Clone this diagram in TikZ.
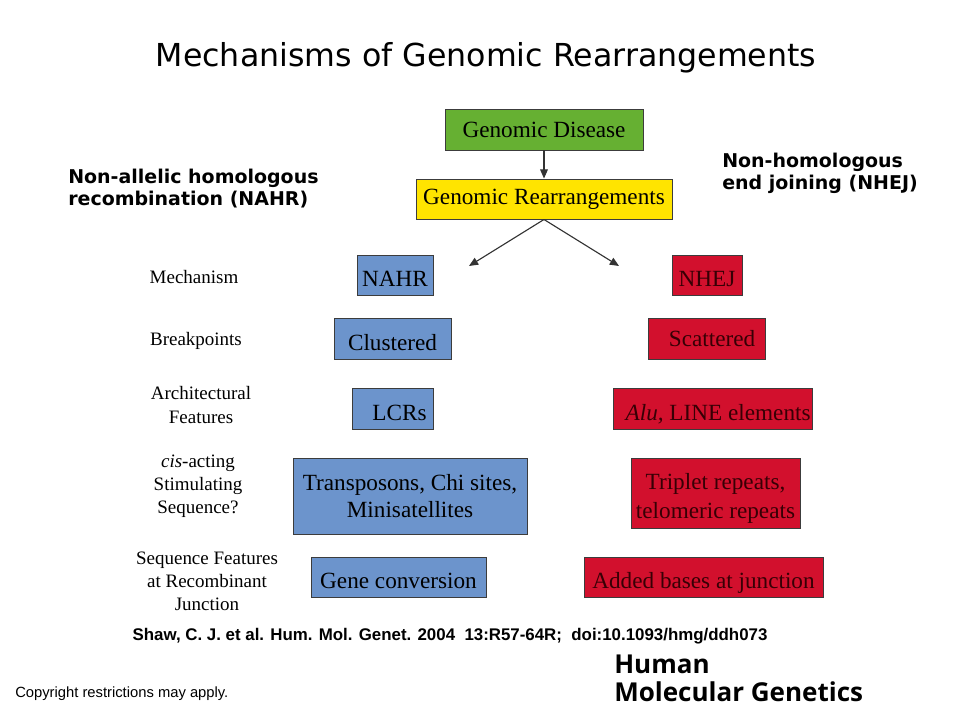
\documentclass[tikz,border=0pt]{standalone}
\usepackage{fontspec}
\setmainfont{Liberation Serif}
\newfontfamily\titlefont{DejaVu Sans}
\newfontfamily\arialfont{Liberation Sans}
\newfontfamily\hmgfont{Open Sans}
\usetikzlibrary{arrows.meta, positioning}
\definecolor{diseasegreen}{RGB}{102, 176, 50}
\definecolor{rearryellow}{RGB}{255, 228, 0}
\definecolor{nahrblue}{RGB}{108, 148, 204}
\definecolor{nhejred}{RGB}{210, 16, 45}
\definecolor{nhejtext}{RGB}{55, 0, 5}
\definecolor{edgegray}{RGB}{60, 60, 60}
\newcommand{\px}{0.025cm}

\tikzset{
  box/.style={draw=edgegray, line width=0.7pt, inner sep=0pt, align=center,
    font=\fontsize{16.5}{19}\selectfont},
  nahrbox/.style={box, fill=nahrblue},
  nhejbox/.style={box, fill=nhejred, text=nhejtext},
  lowtext/.style={text height=17pt, text depth=0pt},
  rowlabel/.style={align=center, inner sep=0pt, font=\fontsize{13.5}{16.4}\selectfont},
  heading/.style={align=left, inner sep=0pt, anchor=west,
    font=\titlefont\bfseries\fontsize{13.5}{15.6}\selectfont},
  link/.style={-{Triangle[length=6.5pt,width=5.5pt]}, line width=0.8pt, draw=black!80}
}

\begin{document}
\begin{tikzpicture}[x=0.025cm, y=-0.025cm]
  \useasboundingbox (0,0) rectangle (960,720);

  % Title
  \node[font=\titlefont\fontsize{22.5}{27}\selectfont] (title) at (486,58) {Mechanisms of Genomic Rearrangements};

  % Top of the tree
  \node[box, fill=diseasegreen, minimum width=198*\px, minimum height=41*\px] (disease) at (544,129.5) {Genomic Disease};
  \node[box, fill=rearryellow, minimum width=256*\px, minimum height=40*\px] (rearr) at (544,199) {Genomic Rearrangements};
  \draw[link] (disease) -- (rearr);
  \coordinate (leftend) at (469,266);
  \coordinate (rightend) at (619,266);
  \draw[link] (rearr.south) -- (leftend);
  \draw[link] (rearr.south) -- (rightend);

  % Headings
  \node[heading] (nahrhead) at (68,189) {Non-allelic homologous\\recombination (NAHR)};
  \node[heading] (nhejhead) at (722,173) {Non-homologous\\end joining (NHEJ)};

  % Row labels
  \node[rowlabel] (lmech) at (194,277) {Mechanism};
  \node[rowlabel] (lbreak) at (196,341) {Breakpoints};
  \node[rowlabel] (larch) at (201,405) {Architectural\\Features};
  \node[rowlabel] (lcis) at (198,486) {\textit{cis}-acting\\Stimulating\\Sequence?};
  \node[rowlabel] (ljunc) at (207,581) {Sequence Features\\at Recombinant\\Junction};

  % NAHR column
  \node[nahrbox, lowtext, minimum width=76*\px, minimum height=40*\px] (nahr) at (395,275) {NAHR};
  \node[nahrbox, lowtext, minimum width=117*\px, minimum height=41*\px] (clustered) at (392.5,338.5) {Clustered};
  \node[nahrbox, lowtext, minimum width=81*\px, minimum height=41*\px] (lcrs) at (392.5,408.5) {\hspace*{10pt}LCRs};
  \node[nahrbox, minimum width=234*\px, minimum height=76*\px] (transposons) at (410,496) {Transposons, Chi sites,\\Minisatellites};
  \node[nahrbox, lowtext, minimum width=175*\px, minimum height=40*\px] (geneconv) at (398.5,577) {Gene conversion};

  % NHEJ column
  \node[nhejbox, lowtext, minimum width=70*\px, minimum height=40*\px] (nhej) at (707,275) {NHEJ};
  \node[nhejbox, minimum width=117*\px, minimum height=41*\px] (scattered) at (706.5,338.5) {\hspace*{8pt}Scattered};
  \node[nhejbox, lowtext, minimum width=199*\px, minimum height=41*\px] (alu) at (712.5,408.5) {\hspace*{8pt}\textit{Alu,} LINE elements};
  \node[nhejbox, minimum width=169*\px, minimum height=70*\px] (triplet) at (715.5,493) {\rule{0pt}{19pt}Triplet repeats,\\[2pt]telomeric repeats};
  \node[nhejbox, lowtext, minimum width=239*\px, minimum height=40*\px] (added) at (703.5,577) {Added bases at junction};

  % Footer
  \node[font=\arialfont\bfseries\fontsize{12}{14}\selectfont] (cite) at (450,636) {Shaw, C. J. et al. Hum. Mol. Genet. 2004~~13:R57-64R;~~doi:10.1093/hmg/ddh073};
  \node[anchor=west, inner sep=0pt, font=\arialfont\fontsize{10.5}{12}\selectfont] (copy) at (15,694) {Copyright restrictions may apply.};
  \node[anchor=west, inner sep=0pt, align=left, font=\hmgfont\bfseries\fontsize{18.5}{20}\selectfont] (hmg) at (614,678) {Human\\Molecular Genetics};
\end{tikzpicture}
\end{document}
